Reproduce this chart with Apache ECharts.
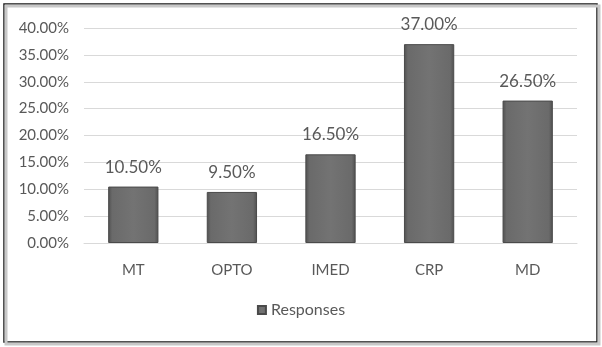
<!DOCTYPE html>
<html lang="en">
<head>
<meta charset="UTF-8">
<title>Responses</title>
<script src="https://cdn.jsdelivr.net/npm/echarts@6/dist/echarts.min.js"></script>
<style>
  html, body { margin: 0; padding: 0; background: #fff; }
</style>
</head>
<body>
<div id="dv" style="width:602px;height:347px;"></div>
<script>
var categories = ['MT', 'OPTO', 'IMED', 'CRP', 'MD'];
var responses = [10.5, 9.5, 16.5, 37, 26.5];
var yMin = 0, yMax = 40, yStep = 5;

var textColor = '#595959';
var fontName = 'Lato';

var barColor = {
  type: 'linear', x: 0, y: 0, x2: 1, y2: 0,
  colorStops: [
    { offset: 0, color: '#4f4f4f' },
    { offset: 0.08, color: '#6a6a6a' },
    { offset: 0.5, color: '#737373' },
    { offset: 0.92, color: '#6a6a6a' },
    { offset: 1, color: '#4f4f4f' }
  ]
};

var myChart = echarts.init(document.getElementById('dv'));
var option = {
  backgroundColor: '#fff',
  animation: false,
  textStyle: { fontFamily: fontName },
  graphic: [
    { type: 'rect', shape: { x: 6, y: 6, width: 593, height: 338 },
      style: { fill: 'none', stroke: '#c8c8c8', lineWidth: 3 }, z: 0 },
    { type: 'rect', shape: { x: 4, y: 4, width: 593, height: 338 },
      style: { fill: '#fff', stroke: '#1a1a1a', lineWidth: 1.5 }, z: -1 }
  ],
  grid: { left: 84, right: 25, top: 28, bottom: 104 },
  legend: {
    bottom: 24,
    left: 'center',
    icon: 'rect',
    itemWidth: 8,
    itemHeight: 8,
    itemGap: 5,
    textStyle: { color: textColor, fontSize: 16, fontFamily: fontName },
    data: ['Responses']
  },
  xAxis: {
    type: 'category',
    data: categories,
    axisLine: { lineStyle: { color: '#d9d9d9' } },
    axisTick: { show: false },
    axisLabel: { color: textColor, fontSize: 15, margin: 20 }
  },
  yAxis: {
    type: 'value',
    min: yMin, max: yMax, interval: yStep,
    axisLine: { show: false },
    axisTick: { show: false },
    splitLine: { lineStyle: { color: '#d9d9d9' } },
    axisLabel: {
      color: textColor, fontSize: 15, margin: 15,
      formatter: function (v) { return v.toFixed(2) + '%'; }
    }
  },
  series: [
    {
      name: 'Responses',
      type: 'bar',
      barWidth: '51%',
      data: responses,
      itemStyle: { color: barColor, borderColor: '#4a4a4a', borderWidth: 1 },
      label: {
        show: true,
        position: 'top',
        distance: 11,
        color: textColor,
        fontSize: 17,
        formatter: function (p) { return p.value.toFixed(2) + '%'; }
      }
    }
  ]
};
myChart.setOption(option);
</script>
</body>
</html>
